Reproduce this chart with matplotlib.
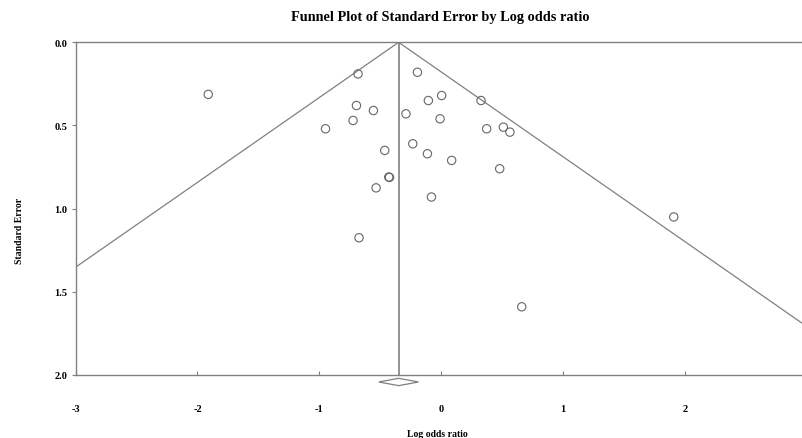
import matplotlib
matplotlib.use("Agg")
import matplotlib.pyplot as plt
from matplotlib.patches import Polygon

# Study data: log odds ratio and standard error
log_or = [-0.683, -0.196, -0.696, -0.557, -0.724, -0.950, -0.106, 0.003, 0.326,
          -0.290, -0.010, 0.372, 0.509, 0.563, -0.464, -0.234, -0.114, 0.085,
          0.479, -0.431, -0.425, -0.535, -0.081, -0.675, -1.912, 1.907, 0.660]
std_err = [0.19, 0.18, 0.38, 0.41, 0.47, 0.52, 0.35, 0.32, 0.35,
           0.43, 0.46, 0.52, 0.51, 0.54, 0.65, 0.61, 0.67, 0.71,
           0.76, 0.81, 0.812, 0.875, 0.93, 1.175, 0.313, 1.05, 1.59]

# Summary estimate and confidence interval
summary_est = -0.35
summary_ci = [-0.513, -0.187]
z_crit = 1.96

x_ticks = [-3, -2, -1, 0, 1, 2]
y_ticks = [0.0, 0.5, 1.0, 1.5, 2.0]
x_tick_labels = ["-3", "-2", "-1", "0", "1", "2"]
y_tick_labels = ["0.0", "0.5", "1.0", "1.5", "2.0"]

plt.rcParams['font.family'] = ['Liberation Serif', 'DejaVu Serif']
W, H = 803, 439
fig = plt.figure(figsize=(W / 100, H / 100), dpi=100)

left_px, right_px, top_px, bot_px = 75.6, 807.0, 43.3, 376.0
ax = fig.add_axes([left_px / W, 1 - bot_px / H, (right_px - left_px) / W, (bot_px - top_px) / H])

gray = '#808080'
# Funnel lines
se_max = 2.0
ax.plot([summary_est - z_crit * se_max, summary_est, summary_est + z_crit * se_max],
        [se_max, 0.0, se_max], color=gray, lw=0.9, zorder=2)
# Vertical line at summary estimate
ax.plot([summary_est, summary_est], [0.0, se_max], color=gray, lw=1.2, zorder=2)

ax.scatter(log_or, std_err, s=36, facecolors='none', edgecolors='#666666',
           linewidths=0.8, zorder=3)

ax.set_xlim(-3, 3)
ax.set_ylim(2.0, 0.0)

# Summary diamond below axis
ymid = 2.042
dh = 0.022
diamond = Polygon([[summary_ci[0], ymid], [summary_est, ymid - dh],
                   [summary_ci[1], ymid], [summary_est, ymid + dh]],
                  closed=True, facecolor='white', edgecolor=gray, lw=0.9,
                  clip_on=False, zorder=4)
ax.add_patch(diamond)

for s in ax.spines.values():
    s.set_color(gray)
    s.set_linewidth(1.0)

ax.set_xticks(x_ticks)
ax.set_xticklabels(x_tick_labels, fontweight='bold', fontsize=7.5)
ax.set_yticks(y_ticks)
ax.set_yticklabels(y_tick_labels, fontweight='bold', fontsize=7.5)
ax.tick_params(axis='x', direction='in', length=3, width=0.8, color=gray, pad=21)
ax.tick_params(axis='y', direction='out', length=3, width=0.8, color=gray, pad=3)

fig.text(440 / W, 1 - 17 / H, "Funnel Plot of Standard Error by Log odds ratio",
         ha='center', va='center', fontsize=10.3, fontweight='bold')
fig.text(437 / W, 1 - 435 / H, "Log odds ratio", ha='center', va='center',
         fontsize=7, fontweight='bold')
fig.text(20 / W, 1 - 231 / H, "Standard Error", ha='center', va='center',
         rotation=90, fontsize=7, fontweight='bold')

fig.savefig("out.png", dpi=100)
